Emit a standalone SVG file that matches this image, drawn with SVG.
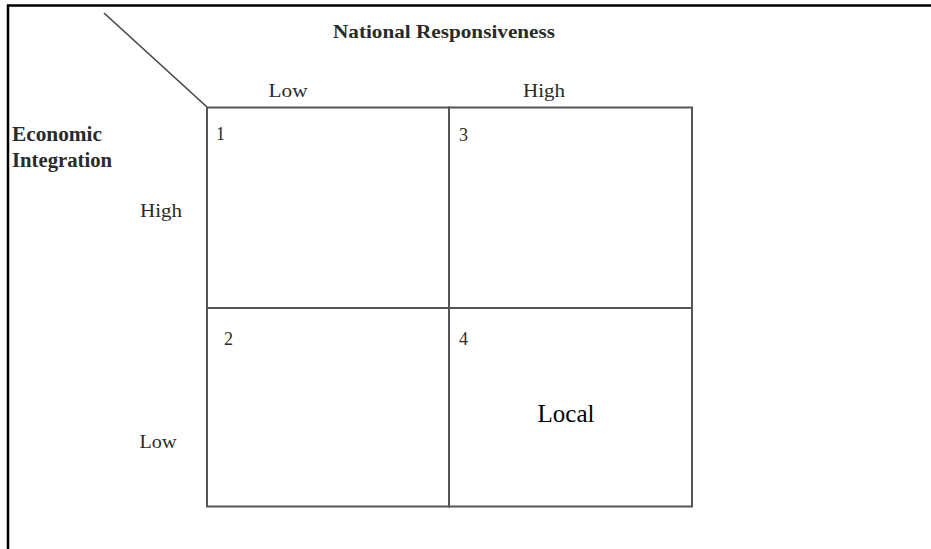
<svg xmlns="http://www.w3.org/2000/svg" width="931" height="549" viewBox="0 0 931 549">
<style>
.t{font-family:"Liberation Serif","Times New Roman",serif;fill:#2a2a2a}
.b{font-weight:bold}
.k{fill:#000}
.g{fill:none;stroke:#555;stroke-width:2}
</style>
<rect width="931" height="549" fill="#fff"/>
<g id="frame">
<path d="M8,549 V5.5 H931" fill="none" stroke="#000" stroke-width="2.5"/>
</g>
<g id="connectors">
<line x1="104" y1="13" x2="207" y2="107" stroke="#444" stroke-width="1.6"/>
</g>
<g id="headers">
<text class="t b" x="444" y="38" font-size="19" text-anchor="middle" textLength="222" lengthAdjust="spacingAndGlyphs">National Responsiveness</text>
<text class="t" x="288" y="97" font-size="18" text-anchor="middle" textLength="39" lengthAdjust="spacingAndGlyphs">Low</text>
<text class="t" x="544" y="97" font-size="18" text-anchor="middle" textLength="42" lengthAdjust="spacingAndGlyphs">High</text>
<text class="t b" x="12" y="141" font-size="20.5" textLength="90" lengthAdjust="spacingAndGlyphs">Economic</text>
<text class="t b" x="12" y="167" font-size="20.5" textLength="100" lengthAdjust="spacingAndGlyphs">Integration</text>
<text class="t" x="161" y="217" font-size="18" text-anchor="middle" textLength="42" lengthAdjust="spacingAndGlyphs">High</text>
<text class="t" x="158" y="448" font-size="18" text-anchor="middle" textLength="37" lengthAdjust="spacingAndGlyphs">Low</text>
</g>
<g id="cell1">
<rect class="g" x="207" y="107.5" width="242" height="200.5"/>
<text class="t" x="216" y="140" font-size="18">1</text>
</g>
<g id="cell3">
<rect class="g" x="449" y="107.5" width="243" height="200.5"/>
<text class="t" x="459" y="141" font-size="18">3</text>
</g>
<g id="cell2">
<rect class="g" x="207" y="308" width="242" height="198.5"/>
<text class="t" x="224" y="345" font-size="18">2</text>
</g>
<g id="cell4">
<rect class="g" x="449" y="308" width="243" height="198.5"/>
<text class="t" x="459" y="345" font-size="18">4</text>
<text class="t k" x="566" y="422" font-size="25" text-anchor="middle">Local</text>
</g>
</svg>
